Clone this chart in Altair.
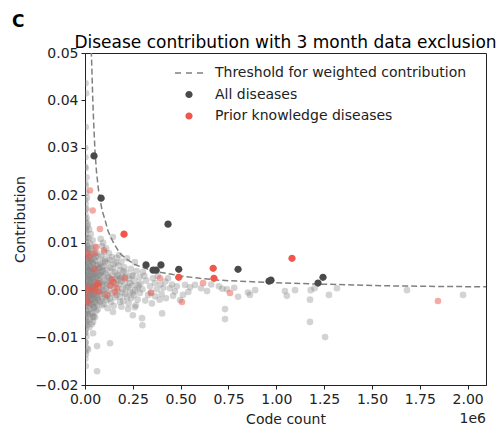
import altair as alt
import pandas as pd

FONT = "DejaVu Sans"
INK = "#222222"

# Threshold for weighted contribution, sampled along the curve (code count in thousands)
thr_count_k = [33, 40, 45, 52, 60, 70, 80, 90, 105, 120, 131, 150, 183, 220, 261, 300,
               345, 400, 500, 600, 700, 800, 970, 1200, 1400, 1600, 1800, 2100]
thr_contrib = [0.0505, 0.0410, 0.0355, 0.0295, 0.0250, 0.0213, 0.0188, 0.0167, 0.0148, 0.0125,
               0.0115, 0.0099, 0.0077, 0.0065, 0.0054, 0.0048, 0.0042, 0.0037, 0.0030, 0.0025,
               0.0021, 0.0019, 0.0016, 0.0013, 0.0011, 0.0009, 0.0008, 0.0007]

# All diseases below the threshold (code count in thousands, contribution)
gray_count_k = [
    3, 6, 4, 3, 8, 2, 5, 10, 3, 7,
    2, 9, 4, 12, 6, 2, 8, 4, 11, 1,
    6, 3, 9, 2, 5, 12, 7, 3, 10, 1,
    6, 4, 9, 2, 7, 11, 3, 5, 8, 2,
    6, 10, 4, 1, 7, 3, 9, 5, 2, 4,
    1, 2, 1, 3, 1, 2, 1, 3, 1, 2,
    1, 3, 1, 2, 1, 3, 1, 2, 1, 2, 1,
    15, 22, 30, 18, 40, 26, 50, 35, 16, 60,
    45, 24, 70, 32, 55, 19, 42, 65, 28, 75,
    37, 52, 21, 62, 46, 30, 78, 57, 17, 40,
    68, 25, 50, 35, 72, 20, 58, 44, 27, 66,
    38, 15, 53, 74, 31, 47, 23, 61, 36, 18,
    55, 42, 70, 26, 49, 33, 64, 20, 44, 29,
    58, 38, 16, 52, 25, 42, 35, 16,
    12, 18, 25, 33, 14, 22, 29, 39, 48, 56,
    11, 17, 26, 34, 43, 61, 69, 80, 88, 13,
    23, 31, 41, 49, 59, 71, 84, 95, 12, 19,
    28, 37, 46, 54, 63, 76, 91, 14, 24, 32,
    40, 51, 60, 68, 81, 97, 11, 21, 30, 39,
    48, 57, 66, 79, 90, 13, 27, 45, 12, 22,
    42, 63, 131, 63, 42, 298, 300, 250, 225, 146,
    403, 732, 732, 261, 183,
    82, 95, 88, 110, 100, 125, 85, 140, 105, 92,
    120, 150, 98, 132, 115, 86, 155, 108, 140, 93,
    126, 160, 102, 145, 84, 118, 135, 96, 152, 110,
    128, 90, 142, 104, 122, 158, 88, 112, 136, 98,
    150, 118, 146, 178,
    105, 130, 160, 175, 200, 120, 145, 185, 210, 235,
    115, 138, 162, 190, 215, 245, 105, 130, 165, 195,
    220, 250, 280, 300,
    165, 220, 261, 190, 175, 205, 240, 185, 270, 303,
    215, 168, 250, 195, 285, 230, 172, 260, 208, 290,
    180, 245, 225, 275, 195, 262, 170, 235, 287, 210,
    255, 182, 240, 275, 200, 228, 265, 190,
    310, 340, 320, 355, 380, 434, 365, 395, 420, 345,
    375, 410, 444, 330, 366, 400, 423, 455, 470, 480,
    497, 512, 523, 549, 575, 540, 315, 350, 390, 460,
    607, 638, 660, 700, 742, 718, 780, 800, 852, 862,
    889, 1045, 1055, 1098, 1176, 1176, 1255, 1180, 1200, 1275,
    1317, 1683, 1976,
]
gray_contrib = [
    0.0436, 0.0415, 0.0344, 0.0257, 0.0238, 0.0225, 0.0205, 0.0195, 0.0182, 0.0172,
    0.0160, 0.0152, 0.0143, 0.0135, 0.0126, 0.0118, 0.0110, 0.0102, 0.0095, 0.0088,
    0.0080, 0.0072, 0.0065, 0.0058, 0.0050, 0.0044, 0.0037, 0.0030, 0.0023, 0.0016,
    0.0009, 0.0002, -0.0005, -0.0012, -0.0020, -0.0027, -0.0034, -0.0042, -0.0050, -0.0058,
    -0.0066, -0.0074, -0.0082, -0.0090, -0.0098, -0.0111, -0.0122, -0.0135, -0.0145, -0.0160,
    0.0300, 0.0280, 0.0260, 0.0220, 0.0190, 0.0170, 0.0150, 0.0130, 0.0110, 0.0090,
    0.0070, 0.0050, 0.0030, 0.0010, -0.0010, -0.0030, -0.0050, -0.0070, -0.0090, -0.0110, -0.0130,
    0.0140, 0.0128, 0.0118, 0.0110, 0.0105, 0.0098, 0.0092, 0.0088, 0.0085, 0.0080,
    0.0076, 0.0072, 0.0070, 0.0066, 0.0062, 0.0060, 0.0056, 0.0053, 0.0050, 0.0047,
    0.0045, 0.0042, 0.0040, 0.0038, 0.0035, 0.0033, 0.0031, 0.0029, 0.0027, 0.0025,
    0.0023, 0.0021, 0.0019, 0.0017, 0.0015, 0.0013, 0.0011, 0.0009, 0.0007, 0.0005,
    0.0003, 0.0001, -0.0001, -0.0003, -0.0005, -0.0007, -0.0009, -0.0011, -0.0013, -0.0015,
    -0.0017, -0.0019, -0.0021, -0.0023, -0.0025, -0.0028, -0.0031, -0.0034, -0.0037, -0.0040,
    -0.0044, -0.0048, -0.0052, -0.0057, -0.0062, -0.0067, -0.0072, -0.0125,
    0.0092, 0.0078, 0.0085, 0.0074, 0.0064, 0.0055, 0.0061, 0.0058, 0.0065, 0.0071,
    0.0048, 0.0041, 0.0044, 0.0039, 0.0047, 0.0052, 0.0045, 0.0056, 0.0049, 0.0031,
    0.0028, 0.0024, 0.0030, 0.0034, 0.0026, 0.0032, 0.0036, 0.0041, 0.0018, 0.0009,
    0.0014, 0.0008, 0.0016, 0.0005, 0.0012, 0.0019, 0.0011, -0.0004, -0.0012, 0.0000,
    -0.0008, -0.0014, -0.0003, -0.0016, -0.0008, -0.0001, -0.0022, -0.0028, -0.0019, -0.0031,
    -0.0036, -0.0027, -0.0041, -0.0024, -0.0032, -0.0045, -0.0050, -0.0055, -0.0065, -0.0078,
    -0.0091, -0.0118, -0.0112, -0.0171, -0.0057, -0.0059, -0.0074, -0.0053, -0.0040, -0.0046,
    -0.0049, -0.0040, -0.0061, -0.0036, -0.0025,
    0.0108, 0.0100, 0.0093, 0.0088, 0.0080, 0.0078, 0.0073, 0.0070, 0.0066, 0.0060,
    0.0057, 0.0055, 0.0050, 0.0047, 0.0043, 0.0040, 0.0038, 0.0035, 0.0032, 0.0029,
    0.0026, 0.0024, 0.0021, 0.0018, 0.0016, 0.0013, 0.0010, 0.0008, 0.0006, 0.0003,
    0.0000, -0.0003, -0.0006, -0.0009, -0.0012, -0.0015, -0.0018, -0.0021, -0.0025, -0.0029,
    -0.0033, -0.0038, 0.0112, 0.0074,
    0.0061, 0.0064, 0.0058, 0.0030, 0.0040, 0.0030, 0.0045, 0.0025, 0.0028, 0.0015,
    0.0018, 0.0022, 0.0012, 0.0018, 0.0005, 0.0030, -0.0015, -0.0018, -0.0010, -0.0005,
    -0.0015, -0.0005, 0.0010, 0.0002,
    0.0068, 0.0067, 0.0059, 0.0060, 0.0052, 0.0048, 0.0045, 0.0042, 0.0040, 0.0038,
    0.0036, 0.0033, 0.0031, 0.0028, 0.0027, 0.0024, 0.0021, 0.0019, 0.0016, 0.0014,
    0.0012, 0.0010, 0.0007, 0.0005, 0.0003, 0.0000, -0.0002, -0.0004, -0.0006, -0.0008,
    -0.0011, -0.0014, -0.0017, -0.0020, -0.0023, -0.0028, -0.0032, -0.0035,
    0.0030, 0.0008, 0.0020, 0.0025, 0.0030, 0.0025, 0.0015, 0.0012, 0.0018, -0.0005,
    0.0002, 0.0005, 0.0004, -0.0010, -0.0013, -0.0008, -0.0017, 0.0012, -0.0003, 0.0008,
    -0.0021, -0.0010, 0.0011, 0.0006, 0.0011, -0.0004, -0.0022, -0.0028, -0.0020, -0.0012,
    0.0004, -0.0002, 0.0012, 0.0008, 0.0002, 0.0003, 0.0005, -0.0014, -0.0005, -0.0010,
    0.0000, -0.0002, -0.0012, 0.0000, -0.0020, -0.0067, -0.0099, 0.0000, 0.0004, -0.0010,
    0.0004, 0.0000, -0.0010,
]

# Prior knowledge diseases below the threshold
pale_count_k = [26, 40, 78, 58, 99, 21, 52, 21, 73, 73,
                141, 115, 157, 167, 209, 16, 42, 10, 392, 345,
                507, 617, 758, 1845, 60, 48, 66, 12, 8, 52,
                130, 150]
pale_contrib = [0.0210, 0.0168, 0.0129, 0.0091, 0.0084, 0.0070, 0.0044, 0.0000, 0.0008, -0.0004,
                0.0023, -0.0010, -0.0004, 0.0004, 0.0025, -0.0025, 0.0004, 0.0006, 0.0025, -0.0006,
                -0.0025, 0.0015, -0.0006, -0.0023, 0.0012, -0.0002, 0.0015, 0.0078, -0.0015, 0.0078,
                0.0010, 0.0016]

# Diseases above the threshold
dark_count_k = [47, 84, 434, 319, 356, 372, 397, 490, 800, 962, 972, 1218, 1244]
dark_contrib = [0.0283, 0.0194, 0.0139, 0.0053, 0.0042, 0.0042, 0.0053, 0.0044, 0.0044,
                0.0019, 0.0021, 0.0015, 0.0027]
red_count_k = [204, 490, 670, 674, 1082]
red_contrib = [0.0118, 0.0027, 0.0046, 0.0025, 0.0067]

LABEL_THR = "Threshold for weighted contribution"
LABEL_ALL = "All diseases"
LABEL_PRIOR = "Prior knowledge diseases"
TITLE = "Disease contribution with 3 month data exclusion"

# Symbol paths: a short dashed stroke (drawn as thin bars) and a small dot
DASH_PATH = ("M-1.4,-0.08H-0.8V0.08H-1.4Z"
             "M-0.3,-0.08H0.3V0.08H-0.3Z"
             "M0.8,-0.08H1.4V0.08H0.8Z")
DOT_PATH = "M0.36,0A0.36,0.36 0 1,1 -0.36,0A0.36,0.36 0 1,1 0.36,0Z"

thr_df = pd.DataFrame({"count": [k * 1000 for k in thr_count_k], "contrib": thr_contrib})
gray_df = pd.DataFrame({"count": [k * 1000 for k in gray_count_k], "contrib": gray_contrib})
pale_df = pd.DataFrame({"count": [k * 1000 for k in pale_count_k], "contrib": pale_contrib})
hi_df = pd.DataFrame({
    "count": [k * 1000 for k in dark_count_k + red_count_k],
    "contrib": dark_contrib + red_contrib,
    "group": [LABEL_ALL] * len(dark_count_k) + [LABEL_PRIOR] * len(red_count_k),
})

x_scale = alt.Scale(domain=[0, 2096000], nice=False, zero=False)
y_scale = alt.Scale(domain=[-0.02, 0.05], nice=False, zero=False)

x_axis = alt.Axis(
    values=[0, 250000, 500000, 750000, 1000000, 1250000, 1500000, 1750000, 2000000],
    labelExpr="format(datum.value / 1000000, '.2f')",
    labelFlush=False, labelAlign="center",
    title="Code count", titleX=200.5, titleY=34, titleBaseline="middle",
)
y_axis = alt.Axis(
    values=[-0.02, -0.01, 0.0, 0.01, 0.02, 0.03, 0.04, 0.05], format=".2f",
    labelFlush=False,
    title="Contribution", titleX=-65, titleY=166, titleBaseline="middle",
)

X = alt.X("count:Q", scale=x_scale, axis=x_axis)
Y = alt.Y("contrib:Q", scale=y_scale, axis=y_axis)

gray = alt.Chart(gray_df).mark_circle(
    color="#808080", opacity=0.35, size=44, clip=True
).encode(x=X, y=Y)

pale = alt.Chart(pale_df).mark_circle(
    color="#ef5548", opacity=0.5, size=44, clip=True
).encode(x=X, y=Y)

threshold = alt.Chart(thr_df).mark_line(
    color="#808080", strokeWidth=1.5, strokeDash=[6, 3], clip=True
).encode(x=X, y=Y)

legend = alt.Legend(
    title=None, orient="none", legendX=94, legendY=10, padding=0,
    symbolSize=400, symbolStrokeWidth=0, labelOffset=16, rowPadding=4.5,
    labelFont=FONT, labelFontSize=14, labelColor=INK, labelLimit=400,
)
domain = [LABEL_THR, LABEL_ALL, LABEL_PRIOR]
highlight = alt.Chart(hi_df).mark_point(filled=True, opacity=1, size=410, clip=True).encode(
    x=X, y=Y,
    color=alt.Color("group:N", scale=alt.Scale(domain=domain, range=["#808080", "#4a4a4a", "#f0564a"]),
                    legend=legend),
    shape=alt.Shape("group:N", scale=alt.Scale(domain=domain, range=[DASH_PATH, DOT_PATH, DOT_PATH]),
                    legend=legend),
)

# Chart heading, panel letter and the x scale multiplier, placed in pixel offsets from the plot area
heading = alt.Chart(pd.DataFrame({"t": [TITLE]})).mark_text(
    font=FONT, fontSize=17, color="black", align="center", baseline="alphabetic"
).encode(x=alt.value(200.5), y=alt.value(-5), text="t:N")

panel = alt.Chart(pd.DataFrame({"t": ["C"]})).mark_text(
    font=FONT, fontSize=17, fontWeight="bold", color="black", align="left", baseline="alphabetic"
).encode(x=alt.value(-73), y=alt.value(-26), text="t:N")

offset = alt.Chart(pd.DataFrame({"t": ["1e6"]})).mark_text(
    font=FONT, fontSize=14, color=INK, align="right", baseline="middle"
).encode(x=alt.value(401), y=alt.value(366), text="t:N")

chart = alt.layer(gray, pale, threshold, highlight, heading, panel, offset).properties(
    width=401, height=332,
    autosize=alt.AutoSizeParams(type="none"),
    padding={"left": 85, "top": 53, "right": 14, "bottom": 42},
).configure_view(
    stroke=INK, strokeWidth=1
).configure_axis(
    grid=False, domainColor=INK, tickColor=INK, tickSize=4, tickWidth=1,
    labelFont=FONT, labelFontSize=14, labelColor=INK, labelPadding=3,
    labelOverlap=False, labelFlush=False, labelBound=False,
    titleFont=FONT, titleFontSize=14, titleColor=INK, titleFontWeight="normal",
)

chart.save("out.html", embed_options={"renderer": "svg", "actions": False})
